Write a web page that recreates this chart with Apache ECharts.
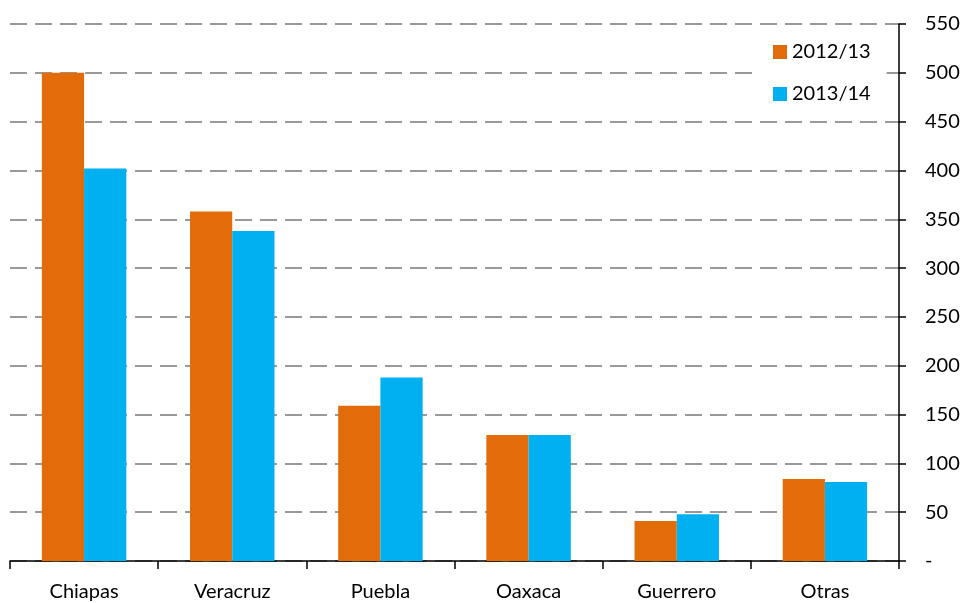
<!DOCTYPE html>
<html>
<head>
<meta charset="utf-8">
<script src="https://cdn.jsdelivr.net/npm/echarts@6/dist/echarts.min.js"></script>
<style>html,body{margin:0;padding:0;background:#fff}#c{width:967px;height:603px}</style>
</head>
<body>
<div id="c"></div>
<script>
const categories = ['Chiapas', 'Veracruz', 'Puebla', 'Oaxaca', 'Guerrero', 'Otras'];
const seriesNames = ['2012/13', '2013/14'];
const values2012 = [500, 358, 159, 129, 41, 84];
const values2013 = [402, 338, 188, 129, 48, 81];
const colors = ['#E36C0A', '#00B0F0'];

const chart = echarts.init(document.getElementById('c'));
const font = 'Lato, "Open Sans", sans-serif';
chart.setOption({
  animation: false,
  textStyle: { fontFamily: font },
  grid: { left: 10, right: 68, top: 24, bottom: 42 },
  legend: {
    orient: 'vertical',
    left: 757, top: 30,
    backgroundColor: '#fff',
    padding: [12, 16, 12, 16],
    itemWidth: 14, itemHeight: 14, itemGap: 22,
    textStyle: { fontSize: 20, color: '#000', fontFamily: font },
    data: seriesNames.map((n, i) => ({ name: n, icon: 'rect', itemStyle: { color: colors[i] } }))
  },
  xAxis: {
    type: 'category',
    data: categories,
    axisLine: { lineStyle: { color: '#000', width: 1.5 } },
    axisTick: { show: true, length: 8, lineStyle: { color: '#000', width: 1.5 } },
    axisLabel: { fontSize: 20, color: '#000', margin: 21, fontFamily: font }
  },
  yAxis: {
    type: 'value',
    position: 'right',
    min: 0, max: 550, interval: 50,
    axisLine: { show: true, lineStyle: { color: '#000', width: 1.5 } },
    axisTick: { show: true, length: 7, inside: false, lineStyle: { color: '#000', width: 1.5 } },
    axisLabel: {
      fontSize: 20, color: '#000', margin: 26, align: 'left', fontFamily: font,
      formatter: v => v === 0 ? '-' : String(v)
    },
    splitLine: { show: true, lineStyle: { color: '#999', width: 2, type: [17, 8] } }
  },
  series: [
    { name: seriesNames[0], type: 'bar', data: values2012, barGap: '0%', barCategoryGap: '43%', itemStyle: { color: colors[0] } },
    { name: seriesNames[1], type: 'bar', data: values2013, barGap: '0%', barCategoryGap: '43%', itemStyle: { color: colors[1] } }
  ]
});
</script>
</body>
</html>
